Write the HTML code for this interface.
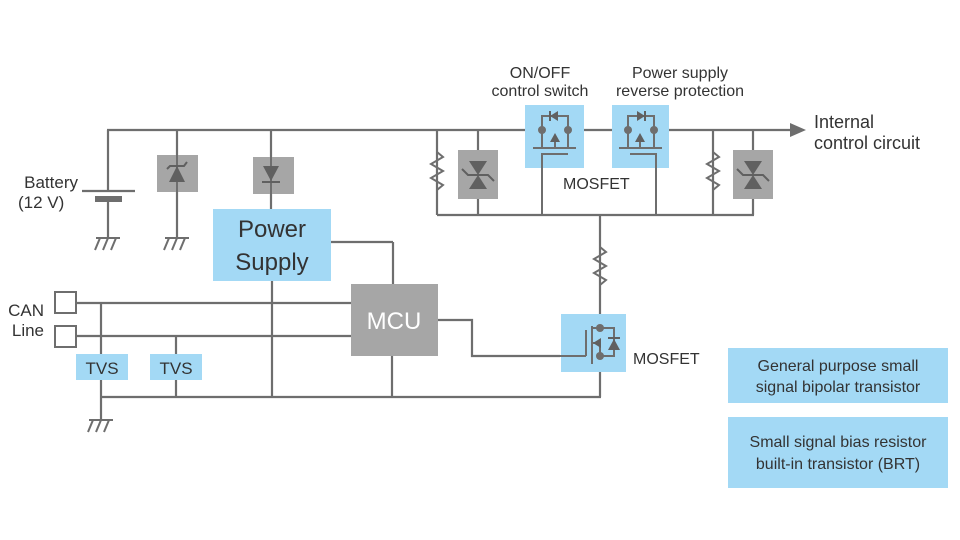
<!DOCTYPE html>
<html><head><meta charset="utf-8"><style>
body{margin:0;background:#fff}
svg{display:block}
text{font-family:"Liberation Sans",sans-serif;fill:#333}
</style></head><body>
<svg width="960" height="540" viewBox="0 0 960 540" xmlns="http://www.w3.org/2000/svg">
<defs>
<g id="gnd" stroke="#6e6e6e" stroke-width="2" fill="none">
<line x1="-12" y1="0" x2="12" y2="0"/><line x1="-8" y1="0" x2="-13" y2="12"/><line x1="0" y1="0" x2="-5" y2="12"/><line x1="8" y1="0" x2="3" y2="12"/>
</g>
<g id="res" stroke="#6e6e6e" stroke-width="2" fill="none">
<polyline points="0,-20 6,-15 -6,-8 6,-1 -6,6 6,13 0,18"/>
</g>
<g id="btvs">
<rect x="-20" y="-25" width="40" height="49" fill="#a6a6a6"/>
<polygon points="-9,-14 9,-14 0,0" fill="#606060"/>
<polygon points="-9,14 9,14 0,0" fill="#606060"/>
<polyline points="-16,-6 -10,0 10,0 16,6" stroke="#606060" stroke-width="2" fill="none"/>
</g>
</defs>
<g stroke="#6e6e6e" stroke-width="2.2" fill="none">
<!-- top rail -->
<line x1="107" y1="130" x2="795" y2="130"/>
<!-- battery -->
<line x1="108" y1="130" x2="108" y2="191"/>
<line x1="82" y1="191" x2="135" y2="191"/>
<line x1="108" y1="200" x2="108" y2="238"/>
<line x1="177" y1="130" x2="177" y2="238"/>
<line x1="271" y1="130" x2="271" y2="209"/>
<!-- power supply -> MCU -->
<line x1="331" y1="242" x2="393" y2="242"/><line x1="393" y1="242" x2="393" y2="284"/>
<!-- CAN lines -->
<line x1="76" y1="303" x2="351" y2="303"/><line x1="76" y1="336" x2="351" y2="336"/>
<line x1="101" y1="303" x2="101" y2="420"/>
<line x1="176" y1="336" x2="176" y2="397"/>
<line x1="272" y1="281" x2="272" y2="397"/>
<line x1="392" y1="356" x2="392" y2="397"/>
<line x1="101" y1="397" x2="601" y2="397"/>
<!-- MCU to mosfet gate -->
<polyline points="438,320 472,320 472,356 560,356"/>
<!-- bottom bus -->
<line x1="437" y1="215" x2="754" y2="215"/>
<line x1="437" y1="130" x2="437" y2="215"/>
<line x1="478" y1="130" x2="478" y2="215"/>
<line x1="713" y1="130" x2="713" y2="215"/>
<line x1="753" y1="130" x2="753" y2="215"/>
<line x1="600" y1="215" x2="600" y2="397"/>
</g>
<polygon points="790,123 806,130 790,137" fill="#6e6e6e"/>
<!-- battery plate -->
<rect x="95" y="196" width="27" height="6" fill="#6e6e6e"/>
<use href="#gnd" x="108" y="238"/>
<use href="#gnd" x="177" y="238"/>
<use href="#gnd" x="101" y="420"/>
<!-- zener -->
<rect x="157" y="155" width="41" height="37" fill="#a6a6a6"/>
<line x1="177" y1="155" x2="177" y2="192" stroke="#6e6e6e" stroke-width="2"/>
<polygon points="169,182 185,182 177,166" fill="#606060"/>
<polyline points="167,169 170,166 184,166 187,162" stroke="#606060" stroke-width="2" fill="none"/>
<!-- diode -->
<rect x="253" y="157" width="41" height="37" fill="#a6a6a6"/>
<line x1="271" y1="157" x2="271" y2="194" stroke="#6e6e6e" stroke-width="2"/>
<polygon points="263,166 279,166 271,181" fill="#606060"/>
<line x1="262" y1="182" x2="280" y2="182" stroke="#606060" stroke-width="2"/>
<!-- Power supply -->
<rect x="213" y="209" width="118" height="72" fill="#a3d9f5"/>
<text x="272" y="237" font-size="24" text-anchor="middle" fill="#222">Power</text>
<text x="272" y="270" font-size="24" text-anchor="middle" fill="#222">Supply</text>
<!-- MCU -->
<rect x="351" y="284" width="87" height="72" fill="#a6a6a6"/>
<text x="394" y="329" font-size="24" text-anchor="middle" fill="#fff" style="fill:#fff">MCU</text>
<!-- CAN squares -->
<rect x="55" y="292" width="21" height="21" fill="#fff" stroke="#6e6e6e" stroke-width="2"/>
<rect x="55" y="326" width="21" height="21" fill="#fff" stroke="#6e6e6e" stroke-width="2"/>
<text x="44" y="316" font-size="17" text-anchor="end">CAN</text>
<text x="44" y="336" font-size="17" text-anchor="end">Line</text>
<!-- TVS -->
<rect x="76" y="354" width="52" height="26" fill="#a3d9f5"/>
<text x="102" y="374" font-size="17" text-anchor="middle" fill="#222">TVS</text>
<rect x="150" y="354" width="52" height="26" fill="#a3d9f5"/>
<text x="176" y="374" font-size="17" text-anchor="middle" fill="#222">TVS</text>
<!-- resistors -->
<use href="#res" x="437" y="172"/>
<use href="#res" x="713" y="172"/>
<use href="#res" x="600" y="267"/>
<!-- bidirectional TVS -->
<use href="#btvs" x="478" y="175"/>
<use href="#btvs" x="753" y="175"/>
<!-- MOSFET 1 -->
<rect x="525" y="105" width="59" height="63" fill="#a3d9f5"/>
<g stroke="#6e6e6e" stroke-width="2" fill="none">
<polyline points="542,130 542,116 568,116 568,130"/>
<line x1="533" y1="148" x2="576" y2="148"/>
<line x1="542" y1="130" x2="542" y2="148"/><line x1="568" y1="130" x2="568" y2="148"/>
<line x1="555" y1="140" x2="555" y2="148"/>
<polyline points="542,158 542,154 568,154"/>
<line x1="542" y1="154" x2="542" y2="215"/>
</g>
<polygon points="550,116 558,111 558,121" fill="#606060"/><line x1="550" y1="111" x2="550" y2="121" stroke="#606060" stroke-width="2"/>
<polygon points="550,142 560,142 555,133" fill="#606060"/>
<circle cx="542" cy="130" r="4" fill="#6e6e6e"/><circle cx="568" cy="130" r="4" fill="#6e6e6e"/>
<!-- MOSFET 2 -->
<rect x="612" y="105" width="57" height="63" fill="#a3d9f5"/>
<g stroke="#6e6e6e" stroke-width="2" fill="none">
<polyline points="628,130 628,116 654,116 654,130"/>
<line x1="619" y1="148" x2="662" y2="148"/>
<line x1="628" y1="130" x2="628" y2="148"/><line x1="654" y1="130" x2="654" y2="148"/>
<line x1="640" y1="140" x2="640" y2="148"/>
<polyline points="630,154 656,154 656,215"/>
</g>
<polygon points="645,116 637,111 637,121" fill="#606060"/><line x1="645" y1="111" x2="645" y2="121" stroke="#606060" stroke-width="2"/>
<polygon points="635,142 645,142 640,133" fill="#606060"/>
<circle cx="628" cy="130" r="4" fill="#6e6e6e"/><circle cx="654" cy="130" r="4" fill="#6e6e6e"/>
<!-- MOSFET 3 -->
<rect x="561" y="314" width="65" height="58" fill="#a3d9f5"/>
<g stroke="#6e6e6e" stroke-width="2" fill="none">
<line x1="586" y1="330" x2="586" y2="356"/>
<line x1="592" y1="326" x2="592" y2="364"/>
<polyline points="592,328 600,328 614,328 614,356 600,356"/>
<line x1="592" y1="343" x2="600" y2="343"/><line x1="600" y1="343" x2="600" y2="356"/>
<line x1="560" y1="356" x2="586" y2="356"/>
</g>
<polygon points="593,343 601,338 601,348" fill="#606060"/>
<polygon points="608,350 620,350 614,339" fill="#606060"/><line x1="608" y1="338" x2="620" y2="338" stroke="#606060" stroke-width="2"/>
<circle cx="600" cy="328" r="4" fill="#6e6e6e"/><circle cx="600" cy="356" r="4" fill="#6e6e6e"/>
<!-- labels -->
<text x="78" y="188" font-size="17" text-anchor="end">Battery</text>
<text x="18" y="208" font-size="17">(12 V)</text>
<text x="540" y="78" font-size="16" text-anchor="middle">ON/OFF</text>
<text x="540" y="96" font-size="16" text-anchor="middle">control switch</text>
<text x="680" y="78" font-size="16" text-anchor="middle">Power supply</text>
<text x="680" y="96" font-size="16" text-anchor="middle">reverse protection</text>
<text x="563" y="189" font-size="16">MOSFET</text>
<text x="633" y="364" font-size="16">MOSFET</text>
<text x="814" y="128" font-size="18">Internal</text>
<text x="814" y="149" font-size="18">control circuit</text>
<rect x="728" y="348" width="220" height="55" fill="#a3d9f5"/>
<text x="838" y="371" font-size="16" text-anchor="middle" fill="#222">General purpose small</text>
<text x="838" y="392" font-size="16" text-anchor="middle" fill="#222">signal bipolar transistor</text>
<rect x="728" y="417" width="220" height="71" fill="#a3d9f5"/>
<text x="838" y="447" font-size="16" text-anchor="middle" fill="#222">Small signal bias resistor</text>
<text x="838" y="469" font-size="16" text-anchor="middle" fill="#222">built-in transistor (BRT)</text>
</svg>
</body></html>
